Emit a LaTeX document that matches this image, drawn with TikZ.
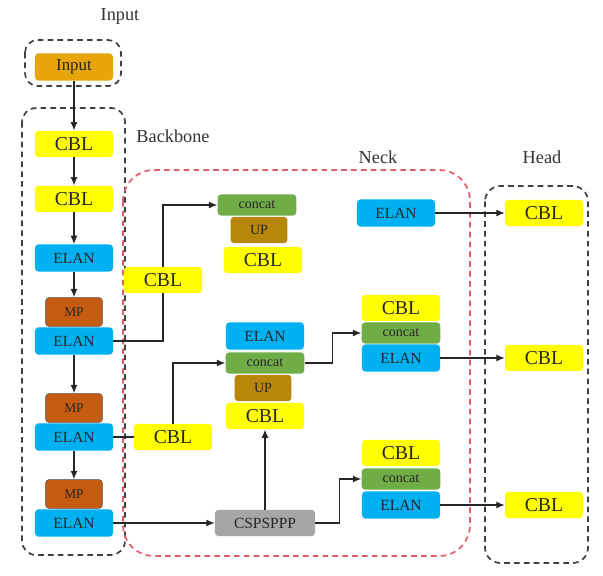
\documentclass[tikz,border=0pt]{standalone}
\usepackage{fontspec}
\setmainfont{Liberation Serif}
\usetikzlibrary{arrows.meta}

\definecolor{cblyellow}{HTML}{FFFF00}
\definecolor{elanblue}{HTML}{00B0F0}
\definecolor{catgreen}{HTML}{70AD47}
\definecolor{mpbrown}{HTML}{C55A11}
\definecolor{upbrown}{HTML}{B8860B}
\definecolor{inorange}{HTML}{E8A50A}
\definecolor{sppgray}{HTML}{A6A6A6}
\definecolor{neckred}{HTML}{E05A6E}
\definecolor{framegray}{HTML}{404040}
\definecolor{boxtext}{HTML}{262626}

\begin{document}
\begin{tikzpicture}[x=0.025cm, y=-0.025cm, font=\rmfamily]
        \tikzstyle{every node}=[rectangle, rounded corners=2.5pt, inner sep=0pt, text=boxtext]
        \tikzstyle{cbl}=[fill=cblyellow, minimum width=1.95cm, minimum height=0.66cm, font=\rmfamily\fontsize{14}{14}\selectfont]
        \tikzstyle{elan}=[fill=elanblue, minimum width=1.95cm, minimum height=0.68cm, font=\rmfamily\fontsize{11}{11}\selectfont]
        \tikzstyle{cat}=[fill=catgreen, minimum width=1.97cm, minimum height=0.53cm, font=\rmfamily\fontsize{10}{10}\selectfont]
        \tikzstyle{mp}=[fill=mpbrown, draw=black!70, minimum width=1.42cm, minimum height=0.72cm, font=\rmfamily\fontsize{9.5}{9.5}\selectfont]
        \tikzstyle{up}=[fill=upbrown, minimum width=1.42cm, minimum height=0.66cm, font=\rmfamily\fontsize{10}{10}\selectfont]
        \tikzstyle{label}=[rectangle, fill=none, text=black!80, font=\rmfamily\fontsize{13}{13}\selectfont]
        \tikzstyle{edge}=[black!85, line width=0.9pt]
        \tikzstyle{flow}=[edge, -{Latex[length=6pt, width=5pt]}]
        \tikzstyle{frame}=[framegray, dashed, line width=1.2pt, dash pattern=on 4pt off 3pt]

        \useasboundingbox (0,0) rectangle (603,576);

        % group frames
        \draw[frame, rounded corners=9pt] (25,40) rectangle (121,86);
        \draw[frame, rounded corners=10pt] (22,108) rectangle (125,555);
        \draw[frame, neckred, rounded corners=22pt] (123,170) rectangle (470,556);
        \draw[frame, rounded corners=11pt] (485,186) rectangle (588,563);

        \node[label] (tin)   at (120,16)  {Input};
        \node[label] (tbb)   at (173,136) {Backbone};
        \node[label] (tneck) at (378,157) {Neck};
        \node[label] (thead) at (542,157) {Head};

        % backbone
        \node[fill=inorange, minimum width=1.95cm, minimum height=0.68cm, font=\rmfamily\fontsize{12}{12}\selectfont] (in) at (74,67) {Input};
        \node[cbl]  (b1) at (74,144) {CBL};
        \node[cbl]  (b2) at (74,199) {CBL};
        \node[elan] (b3) at (74,258) {ELAN};
        \node[mp]   (m1) at (74,312) {MP};
        \node[elan] (e1) at (74,341) {ELAN};
        \node[mp]   (m2) at (74,408) {MP};
        \node[elan] (e2) at (74,437) {ELAN};
        \node[mp]   (m3) at (74,494) {MP};
        \node[elan] (e3) at (74,523) {ELAN};

        % neck
        \node[cbl]  (na) at (163,280) {CBL};
        \node[cbl]  (nb) at (173,437) {CBL};

        \node[cat]  (c1) at (257,205) {concat};
        \node[up]   (u1) at (259,230) {UP};
        \node[cbl]  (k1) at (263,260) {CBL};

        \node[elan] (l2) at (265,336) {ELAN};
        \node[cat]  (c2) at (265,363) {concat};
        \node[up]   (u2) at (263,388) {UP};
        \node[cbl]  (k2) at (265,416) {CBL};

        \node[fill=sppgray, minimum width=2.5cm, minimum height=0.66cm, font=\rmfamily\fontsize{11}{11}\selectfont] (spp) at (265,523) {CSPSPPP};

        \node[elan] (l1) at (396,213) {ELAN};

        \node[cbl]  (k3) at (401,308) {CBL};
        \node[cat]  (c3) at (401,333) {concat};
        \node[elan] (l3) at (401,358) {ELAN};

        \node[cbl]  (k4) at (401,453) {CBL};
        \node[cat]  (c4) at (401,479) {concat};
        \node[elan] (l4) at (401,505) {ELAN};

        % head
        \node[cbl]  (h1) at (544,213) {CBL};
        \node[cbl]  (h2) at (544,358) {CBL};
        \node[cbl]  (h3) at (544,505) {CBL};

        % connections
        \draw[flow] (in) -- (b1);
        \draw[flow] (b1) -- (b2);
        \draw[flow] (b2) -- (b3);
        \draw[flow] (b3) -- (m1);
        \draw[flow] (e1) -- (m2);
        \draw[flow] (e2) -- (m3);

        \draw[edge] (e1.east) -| (na.south);
        \draw[flow] (na.north) |- (c1.west);
        \draw[edge] (e2.east) -- (nb.west);
        \draw[flow] (nb.north) |- (c2.west);
        \draw[flow] (e3.east) -- (spp.west);
        \draw[flow] (spp.north) -- (k2.south);
        \draw[flow] (c2.east) -- ++(28,0) |- (c3.west);
        \draw[flow] (spp.east) -- ++(24,0) |- (c4.west);

        \draw[flow] (l1.east) -- (h1.west);
        \draw[flow] (l3.east) -- (h2.west);
        \draw[flow] (l4.east) -- (h3.west);
\end{tikzpicture}
\end{document}
